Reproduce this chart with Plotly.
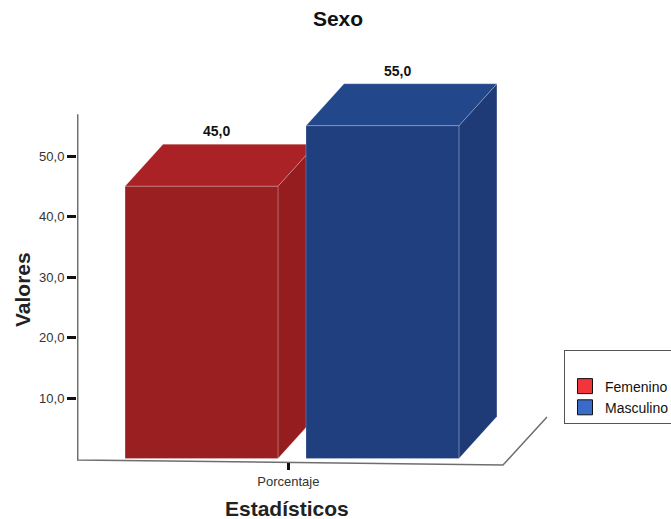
import plotly.graph_objects as go

# --- data ---------------------------------------------------------------
categories = ["Femenino", "Masculino"]
values = [45.0, 55.0]
x_tick_labels = ["Porcentaje"]
y_tick_values = [10, 20, 30, 40, 50]

# --- styling --------------------------------------------------------------
front_colors = ["#9A1F21", "#203F7E"]
top_colors = ["#AA2225", "#23478B"]
side_colors = ["#951D20", "#1E3B78"]
legend_colors = ["#F2343B", "#3A6BC8"]
edge_color = "rgba(255,255,255,0.22)"
FONT = "Liberation Sans, Arial, sans-serif"

BAR_WIDTH = 0.845          # in category-spacing units
DEPTH_X = 0.21             # oblique projection of bar depth (x units)
DEPTH_Y = 6.94             # oblique projection of bar depth (value units)

X_RANGE = [-1.188, 1.481]
Y_RANGE = [-1.90, 65.87]

fig = go.Figure()

n = len(values)
for i, (cat, v) in enumerate(zip(categories, values)):
    xc = i - (n - 1) / 2
    xl, xr = xc - BAR_WIDTH / 2, xc + BAR_WIDTH / 2
    faces = [
        # right side face
        ([xr, xr, xr + DEPTH_X, xr + DEPTH_X, xr], [0, v, v + DEPTH_Y, DEPTH_Y, 0], side_colors[i]),
        # top face
        ([xl, xr, xr + DEPTH_X, xl + DEPTH_X, xl], [v, v, v + DEPTH_Y, v + DEPTH_Y, v], top_colors[i]),
        # front face
        ([xl, xr, xr, xl, xl], [0, 0, v, v, 0], front_colors[i]),
    ]
    for fx, fy, col in faces:
        fig.add_trace(go.Scatter(
            x=fx, y=fy, mode="lines", fill="toself", fillcolor=col,
            line=dict(color=edge_color, width=1),
            hoverinfo="skip", showlegend=False,
        ))
    label = f"{v:.1f}".replace(".", ",")
    fig.add_annotation(
        x=xc + DEPTH_X / 2 - 0.02, y=v + DEPTH_Y, text=label, showarrow=False,
        yanchor="bottom", yshift=3,
        font=dict(family=FONT, size=14, color="#111111", weight="bold"),
    )

# left axis line and floor outline
x_left = X_RANGE[0] + 0.004
fig.add_trace(go.Scatter(
    x=[x_left, x_left, 1.166, 1.409],
    y=[56.9, -0.25, -1.07, 6.86],
    mode="lines", line=dict(color="#6E6E6E", width=1.5),
    hoverinfo="skip", showlegend=False,
))

# legend entries
for cat, col in zip(categories, legend_colors):
    fig.add_trace(go.Scatter(
        x=[None], y=[None], mode="markers", name=cat,
        marker=dict(symbol="square", size=15, color=col,
                    line=dict(color="#111111", width=1)),
    ))

fig.add_annotation(
    xref="paper", yref="paper", x=(22 - 77) / 483, y=0.439, text="Valores",
    textangle=-90, showarrow=False, xanchor="center", yanchor="middle",
    font=dict(family=FONT, size=21, color="#222222", weight="bold"),
)
fig.add_annotation(
    xref="paper", yref="paper", x=(287 - 77) / 483, y=(470 - 508) / 410,
    text="Estadísticos", showarrow=False, xanchor="center", yanchor="middle",
    font=dict(family=FONT, size=21, color="#222222", weight="bold"),
)

fig.update_layout(
    width=671, height=519,
    margin=dict(l=77, r=111, t=60, b=49, autoexpand=False),
    paper_bgcolor="white", plot_bgcolor="white",
    separators=",.",
    title=dict(text="Sexo", x=338 / 671, xanchor="center", xref="container",
               y=1 - 19 / 519, yanchor="middle", yref="container",
               font=dict(family=FONT, size=21, color="#111111", weight="bold")),
    xaxis=dict(range=X_RANGE, showgrid=False, zeroline=False, showline=False,
               tickvals=[-0.02], ticktext=x_tick_labels, ticks="outside",
               ticklen=7, tickwidth=3, tickcolor="#111111",
               anchor="free", position=(470 - 462) / 410,
               tickfont=dict(family=FONT, size=13, color="#333333")),
    yaxis=dict(range=Y_RANGE, showgrid=False, zeroline=False, showline=False,
               tickvals=y_tick_values, tickformat=".1f", ticks="outside",
               ticklen=9, tickwidth=3, tickcolor="#111111",
               tickfont=dict(family=FONT, size=13, color="#333333")),
    showlegend=True,
    legend=dict(xref="container", yref="container", x=564 / 671, y=1 - 350 / 519,
                xanchor="left", yanchor="top",
                bgcolor="white", bordercolor="#555555", borderwidth=1,
                title=dict(text=" ", font=dict(size=15)),
                font=dict(family=FONT, size=14, color="#111111"),
                itemwidth=30, tracegroupgap=0),
)

fig.write_html("out.html")
